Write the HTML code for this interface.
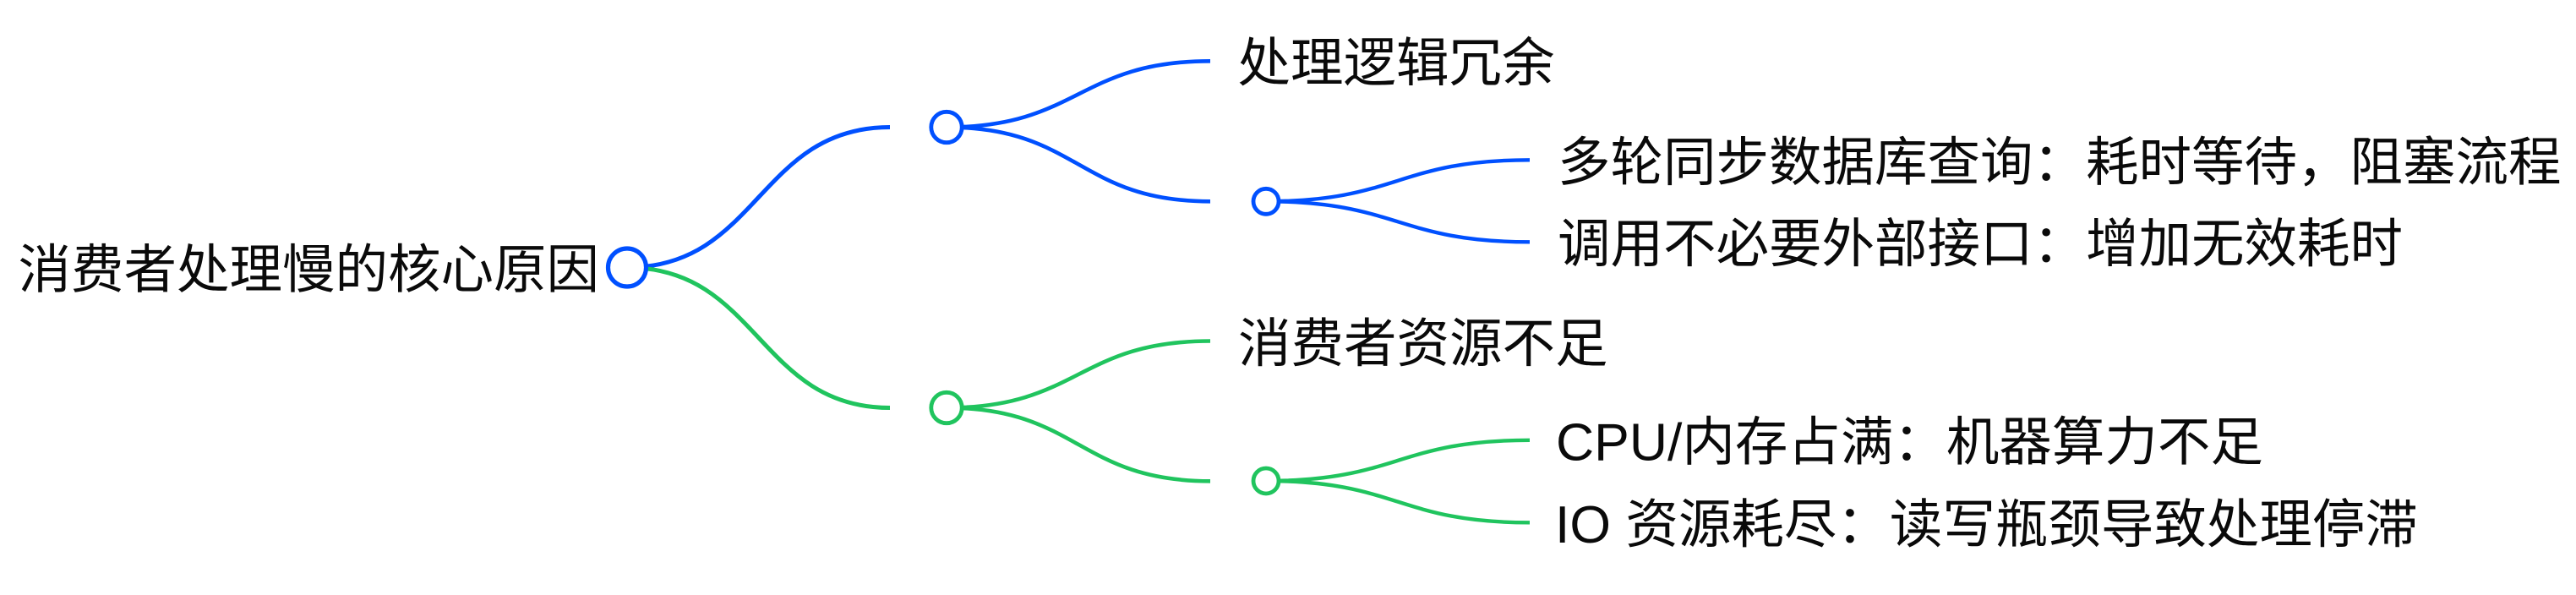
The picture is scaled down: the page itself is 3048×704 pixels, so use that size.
<!DOCTYPE html>
<html>
<head>
<meta charset="utf-8">
<style>
  html, body { margin: 0; padding: 0; background: #ffffff; }
  body { width: 3048px; height: 704px; overflow: hidden; }
  svg { display: block; }
  text {
    font-family: "Liberation Sans", "Noto Sans CJK SC", "WenQuanYi Zen Hei", sans-serif;
    font-size: 62.5px;
    fill: #0a0a0a;
  }
</style>
</head>
<body>
<svg width="3048" height="704" viewBox="0 0 3048 704" xmlns="http://www.w3.org/2000/svg">
  <g fill="none" stroke-linecap="butt">
    <!-- root -> level1 -->
    <path d="M742,316.5 C897.5,316.5 897.5,150.5 1053,150.5" stroke="#0050ff" stroke-width="5"/>
    <path d="M742,316.5 C897.5,316.5 897.5,482.5 1053,482.5" stroke="#20c45e" stroke-width="5"/>

    <!-- blue level1 -> children -->
    <path d="M1120,150.5 C1276,150.5 1276,72.3 1432,72.3" stroke="#0050ff" stroke-width="4.6"/>
    <path d="M1120,150.5 C1276,150.5 1276,238.3 1432,238.3" stroke="#0050ff" stroke-width="4.6"/>

    <!-- green level1 -> children -->
    <path d="M1120,482.5 C1276,482.5 1276,403.5 1432,403.5" stroke="#20c45e" stroke-width="4.6"/>
    <path d="M1120,482.5 C1276,482.5 1276,569.3 1432,569.3" stroke="#20c45e" stroke-width="4.6"/>

    <!-- blue level2 -> leaves -->
    <path d="M1498,238.3 C1654,238.3 1654,189.3 1810,189.3" stroke="#0050ff" stroke-width="4.4"/>
    <path d="M1498,238.3 C1654,238.3 1654,286.3 1810,286.3" stroke="#0050ff" stroke-width="4.4"/>

    <!-- green level2 -> leaves -->
    <path d="M1498,569 C1654,569 1654,520.8 1810,520.8" stroke="#20c45e" stroke-width="4.4"/>
    <path d="M1498,569 C1654,569 1654,618.3 1810,618.3" stroke="#20c45e" stroke-width="4.4"/>
  </g>

  <!-- circles -->
  <circle cx="742" cy="316.5" r="22.5" fill="#ffffff" stroke="#0050ff" stroke-width="5.2"/>
  <circle cx="1120" cy="150.5" r="18.2" fill="#ffffff" stroke="#0050ff" stroke-width="4.8"/>
  <circle cx="1120" cy="482.5" r="18.2" fill="#ffffff" stroke="#20c45e" stroke-width="4.8"/>
  <circle cx="1498" cy="238.3" r="15" fill="#ffffff" stroke="#0050ff" stroke-width="4.8"/>
  <circle cx="1498" cy="569" r="15" fill="#ffffff" stroke="#20c45e" stroke-width="4.8"/>

  <!-- labels -->
  <text x="21.5" y="340.5">消费者处理慢的核心原因</text>
  <text x="1464.5" y="96.2">处理逻辑冗余</text>
  <text x="1465" y="428">消费者资源不足</text>
  <text x="1843" y="213.5">多轮同步数据库查询：耗时等待，阻塞流程</text>
  <text x="1843" y="310">调用不必要外部接口：增加无效耗时</text>
  <text x="1841" y="544.5">CPU/内存占满：机器算力不足</text>
  <text x="1840" y="642">IO 资源耗尽：读写瓶颈导致处理停滞</text>
</svg>
</body>
</html>
